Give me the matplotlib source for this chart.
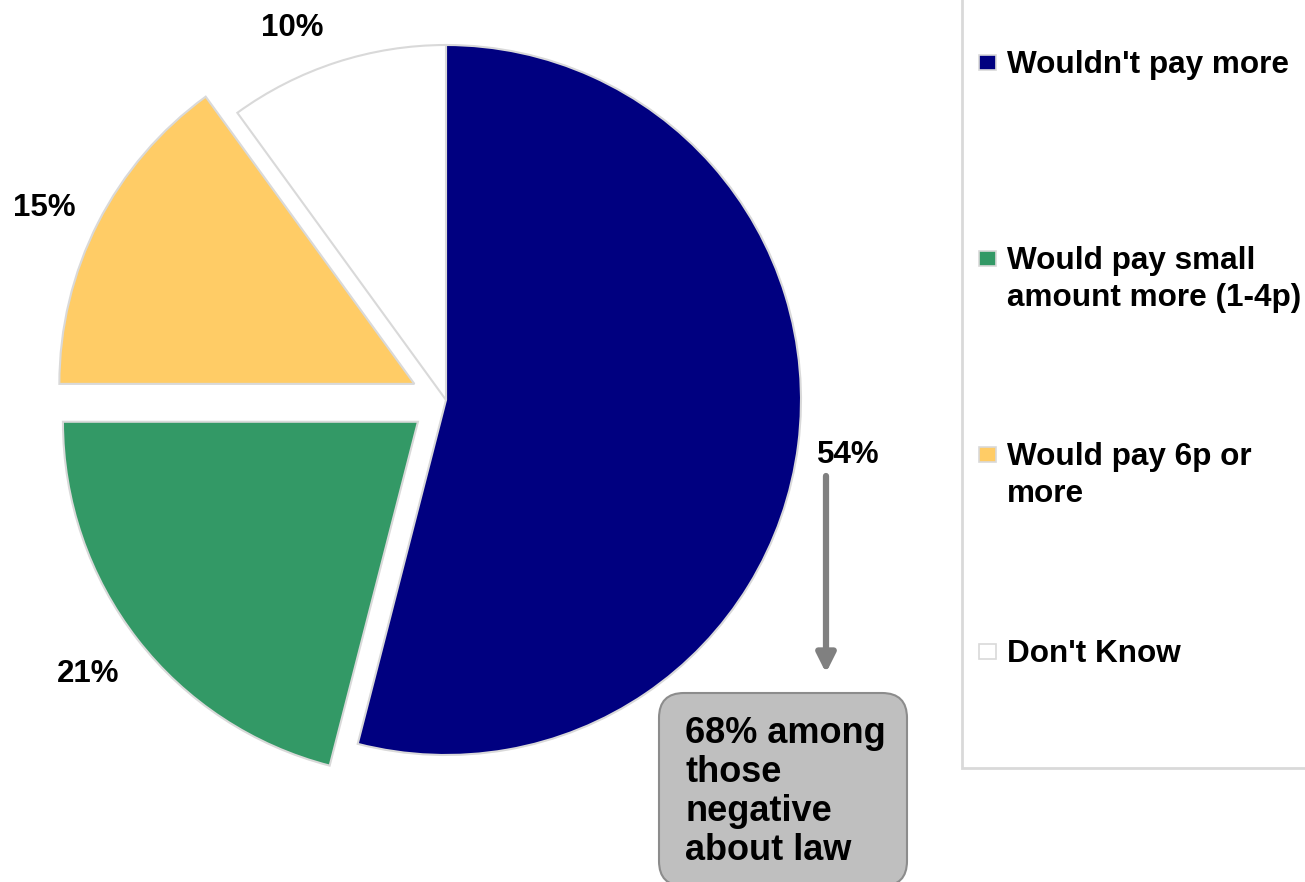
import matplotlib
matplotlib.use("Agg")
import matplotlib.pyplot as plt
from matplotlib.patches import FancyBboxPatch, Rectangle

# Survey answers: willingness to pay more
categories = ["Wouldn't pay more", "Would pay small\namount more (1-4p)",
              "Would pay 6p or\nmore", "Don't Know"]
shares = [54, 21, 15, 10]
colors = ["#000080", "#339966", "#FFCC66", "#FFFFFF"]
explode = [0, 0.1, 0.1, 0]          # fraction of the radius
callout_text = "68% among\nthose\nnegative\nabout law"

W, H = 1305, 882
plt.rcParams["font.family"] = ["Liberation Sans", "DejaVu Sans"]
fig = plt.figure(figsize=(W / 100, H / 100), dpi=100)
ax = fig.add_axes([0, 0, 1, 1])
ax.set_xlim(0, W)
ax.set_ylim(0, H)
ax.set_aspect("equal")
ax.axis("off")


def Y(y):
    """Convert a top-down pixel row into the axes' upward y value."""
    return H - y


def multiline(x, y_first, text, step, **kw):
    """Draw text line by line, first baseline at pixel row y_first."""
    for i, line in enumerate(text.split("\n")):
        ax.text(x, Y(y_first + i * step), line, ha="left", va="baseline", **kw)


R = 355
ax.pie(shares, colors=colors, explode=[e * R for e in explode],
       startangle=90, counterclock=False,
       center=(446, Y(400)), radius=R,
       wedgeprops=dict(edgecolor="#D9D9D9", linewidth=1.5))
ax.set_xlim(0, W)
ax.set_ylim(0, H)

# percentage labels
label_pos = [(848, 463), (88, 682), (44, 216), (292, 36)]
for v, (x, y) in zip(shares, label_pos):
    ax.text(x, Y(y), f"{v}%", ha="center", va="baseline",
            fontsize=22.5, fontweight="bold", color="black")

# arrow to callout box
ax.annotate("", xy=(826, Y(673)), xytext=(826, Y(476)),
            arrowprops=dict(arrowstyle="-|>", lw=4.5, color="#808080",
                            mutation_scale=28, shrinkA=0, shrinkB=0))

# callout box
box = FancyBboxPatch((659 + 25, Y(886) + 25), 248 - 50, 193 - 50,
                     boxstyle="round,pad=25", facecolor="#BFBFBF",
                     edgecolor="#8C8C8C", linewidth=1.5)
ax.add_patch(box)
multiline(685, 743, callout_text, 39,
          fontsize=26, fontweight="bold", color="black")

# legend frame
ax.plot([962, 962, W + 5], [H + 5, Y(768), Y(768)], color="#D9D9D9", lw=2,
        solid_joinstyle="miter")

# legend entries
legend_rows = [62, 258, 454, 651]
for name, col, yc in zip(categories, colors, legend_rows):
    ax.add_patch(Rectangle((979, Y(yc) - 7.5), 17, 15, facecolor=col,
                           edgecolor="#D9D9D9", linewidth=1.2))
    multiline(1007, yc + 11, name, 37,
              fontsize=22.7, fontweight="bold", color="black")

fig.savefig("out.png", dpi=100)
